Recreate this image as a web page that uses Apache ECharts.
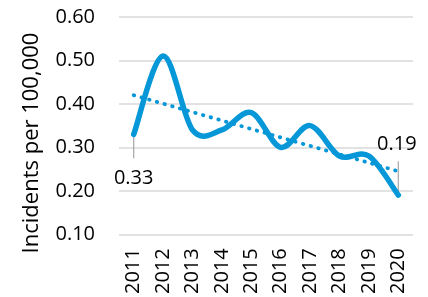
<!DOCTYPE html>
<html><head><meta charset="utf-8">
<script src="https://cdn.jsdelivr.net/npm/echarts@6/dist/echarts.min.js"></script>
<style>html,body{margin:0;padding:0;background:#fff}#c{width:428px;height:297px}</style>
</head><body><div id="c"></div>
<script>
const years = ['2011','2012','2013','2014','2015','2016','2017','2018','2019','2020'];
const incidents = [0.33, 0.51, 0.34, 0.34, 0.38, 0.30, 0.35, 0.28, 0.28, 0.19];
const trendStart = 0.42;
const trendEnd = 0.245;
const yTicks = [0.10, 0.20, 0.30, 0.40, 0.50, 0.60];
const labelledIdx = [0, 9];

const blue = '#0597d7';
const font = '"Open Sans", "Liberation Sans", sans-serif';
const trend = years.map((y, i) => i === 0 ? trendStart : (i === years.length - 1 ? trendEnd : '-'));

function renderCurve(params, api) {
  if (params.dataIndex !== 0) return null;
  const pts = incidents.map((v, i) => api.coord([i, v]));
  const n = pts.length;
  let d = 'M' + pts[0][0] + ' ' + pts[0][1];
  for (let i = 0; i < n - 1; i++) {
    const p0 = pts[Math.max(0, i - 1)], p1 = pts[i], p2 = pts[i + 1], p3 = pts[Math.min(n - 1, i + 2)];
    const c1x = p1[0] + (p2[0] - p0[0]) / 6, c1y = p1[1] + (p2[1] - p0[1]) / 6;
    const c2x = p2[0] - (p3[0] - p1[0]) / 6, c2y = p2[1] - (p3[1] - p1[1]) / 6;
    d += ' C' + c1x + ' ' + c1y + ' ' + c2x + ' ' + c2y + ' ' + p2[0] + ' ' + p2[1];
  }
  const children = [];
  // leader lines + labels
  const a = pts[labelledIdx[0]], b = pts[labelledIdx[1]];
  children.push({type: 'line', shape: {x1: a[0], y1: a[1] + 2, x2: a[0], y2: a[1] + 24},
    style: {stroke: '#a6a6a6', lineWidth: 1.2}});
  children.push({type: 'text', x: a[0], y: a[1] + 44,
    style: {text: incidents[labelledIdx[0]].toFixed(2), fill: '#000', font: '20px ' + font,
      align: 'center', verticalAlign: 'middle'}});
  children.push({type: 'line', shape: {x1: b[0], y1: b[1] - 2, x2: b[0], y2: b[1] - 34},
    style: {stroke: '#a6a6a6', lineWidth: 1.2}});
  children.push({type: 'text', x: b[0] - 1.5, y: b[1] - 51,
    style: {text: incidents[labelledIdx[1]].toFixed(2), fill: '#000', font: '20px ' + font,
      align: 'center', verticalAlign: 'middle'}});
  children.push({type: 'path', shape: {pathData: d},
    style: {stroke: blue, fill: null, lineWidth: 5.5, lineCap: 'round', lineJoin: 'round'}});
  return {type: 'group', children};
}

const chart = echarts.init(document.getElementById('c'), null, {renderer: 'canvas'});
chart.setOption({
  animation: false,
  grid: {left: 119, right: 15, top: 17, bottom: 62},
  graphic: [{
    type: 'text', x: 32, y: 143, rotation: Math.PI / 2,
    style: {text: 'Incidents per 100,000', fill: '#000', font: '22px ' + font,
      align: 'center', verticalAlign: 'middle'}
  }],
  xAxis: {
    type: 'category', data: years, boundaryGap: true,
    axisLine: {show: false}, axisTick: {show: false},
    axisLabel: {rotate: 90, fontSize: 20, color: '#000', fontFamily: font, margin: 14}
  },
  yAxis: {
    type: 'value', min: yTicks[0], max: yTicks[yTicks.length - 1], interval: 0.1,
    axisLabel: {fontSize: 20, color: '#000', fontFamily: font, margin: 24,
      formatter: v => v.toFixed(2)},
    splitLine: {lineStyle: {color: '#d9d9d9', width: 1.5}},
    axisLine: {show: false}, axisTick: {show: false}
  },
  series: [
    {
      type: 'line', data: trend, connectNulls: true, symbol: 'none',
      lineStyle: {color: blue, width: 3.8, type: [0.5, 7.5], cap: 'round'},
      z: 1
    },
    {
      type: 'custom', renderItem: renderCurve,
      data: incidents.map((v, i) => [i, v]),
      encode: {x: 0, y: 1}, clip: false, z: 2
    }
  ]
});
</script></body></html>
